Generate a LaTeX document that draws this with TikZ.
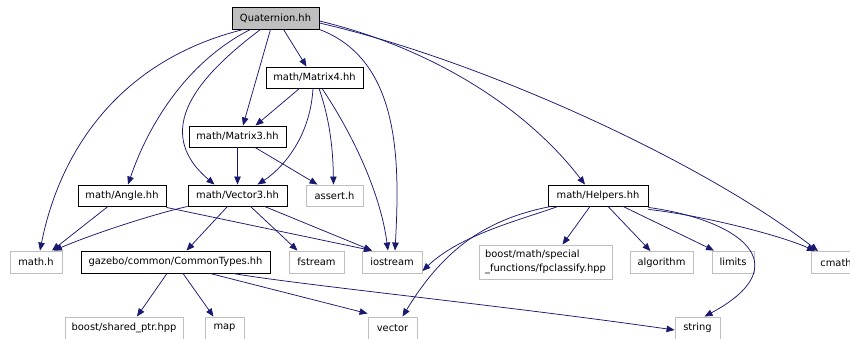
\documentclass[tikz,border=0pt]{standalone}
\usepackage{fontspec}
\setmainfont{DejaVu Sans}
\usetikzlibrary{arrows.meta}
\definecolor{edgeblue}{HTML}{191970}
\definecolor{extgray}{HTML}{BFBFBF}
\tikzset{
  every node/.style={font=\fontsize{9.9}{13.5}\selectfont, inner sep=0pt},
  hdr/.style={draw=black, line width=0.9pt, rectangle, fill=white, align=center},
  ext/.style={draw=extgray, line width=0.9pt, rectangle, fill=white, align=center},
  root/.style={hdr, fill=extgray},
  dep/.style={draw=edgeblue, line width=0.75pt, -{Triangle[length=8pt,width=6.5pt]}},
}
\begin{document}
\begin{tikzpicture}[x=1pt, y=-1pt]
\useasboundingbox (0,0) rectangle (850,339);

% header files of the project
\node[root, minimum width=87pt, minimum height=22pt] (q)   at (275.5,18)   {Quaternion.hh};
\node[hdr, minimum width=97pt, minimum height=21pt] (m4)   at (314.5,77.5) {math/Matrix4.hh};
\node[hdr, minimum width=97pt, minimum height=21pt] (m3)   at (237.5,136.5) {math/Matrix3.hh};
\node[hdr, minimum width=88pt, minimum height=21pt] (ang)  at (122,195.5)  {math/Angle.hh};
\node[hdr, minimum width=99pt, minimum height=21pt] (v3)   at (237.5,195.5) {math/Vector3.hh};
\node[hdr, minimum width=100pt, minimum height=21pt] (hlp) at (598,195.5)  {math/Helpers.hh};
\node[hdr, minimum width=189pt, minimum height=22pt] (ct)  at (175.5,262)  {gazebo/common/CommonTypes.hh};

% system and third-party headers
\node[ext, minimum width=57pt, minimum height=21pt] (as)   at (334.5,195.5) {assert.h};
\node[ext, minimum width=52pt, minimum height=22pt] (mh)   at (36,262)     {math.h};
\node[ext, minimum width=55pt, minimum height=22pt] (fs)   at (316.5,262)  {fstream};
\node[ext, minimum width=60pt, minimum height=22pt] (ios)  at (392,262)    {iostream};
\node[ext, minimum width=133pt, minimum height=34pt, align=left] (bm) at (545.5,262)
  {boost/math/special\\\_functions/fpclassify.hpp};
\node[ext, minimum width=63pt, minimum height=22pt] (alg)  at (661.5,262.5) {algorithm};
\node[ext, minimum width=42pt, minimum height=22pt] (lim)  at (733,262)    {limits};
\node[ext, minimum width=50pt, minimum height=22pt] (cm)   at (836,262.5)  {cmath};
\node[ext, minimum width=118pt, minimum height=22pt] (sp)  at (124,328)    {boost/shared\_ptr.hpp};
\node[ext, minimum width=39pt, minimum height=22pt] (map)  at (224.5,328)  {map};
\node[ext, minimum width=49pt, minimum height=22pt] (vec)  at (392.5,328)  {vector};
\node[ext, minimum width=45pt, minimum height=22pt] (str)  at (697.5,328)  {string};

% includes of Quaternion.hh
\draw[dep] ([xshift=8pt]q.south) -- ([xshift=-8pt]m4.north);
\draw[dep] ([xshift=-5pt]q.south) -- ([xshift=5.5pt]m3.north);
\draw[dep] ([xshift=-15pt]q.south) .. controls (200,75) and (150,130) .. ([xshift=-23pt]v3.north);
\draw[dep] ([xshift=-25pt]q.south) .. controls (190,60) and (150,120) .. ([xshift=6pt]ang.north);
\draw[dep] ([xshift=-32pt]q.south) .. controls (120,60) and (60,150) .. ([xshift=4pt]mh.north);
\draw[dep] (q.south east) .. controls (400,60) and (400,160) .. ([xshift=3pt]ios.north);
\draw[dep] ([yshift=-3pt]q.east) .. controls (420,45) and (520,100) .. ([xshift=-13pt]hlp.north);
\draw[dep] ([yshift=-5pt]q.east) .. controls (480,60) and (700,160) .. ([xshift=-18pt]cm.north);

% includes of Matrix4.hh
\draw[dep] ([xshift=-15pt]m4.south) -- ([xshift=18pt]m3.north);
\draw[dep] ([xshift=-1.5pt]m4.south) .. controls (310,140) and (280,170) .. ([xshift=20pt]v3.north);
\draw[dep] ([xshift=4.5pt]m4.south) .. controls (330,120) and (333,150) .. ([xshift=-1pt]as.north);
\draw[dep] ([xshift=7.5pt]m4.south) .. controls (350,130) and (380,190) .. ([xshift=-4pt]ios.north);

% includes of Matrix3.hh
\draw[dep] (m3.south) -- (v3.north);
\draw[dep] ([xshift=17.5pt]m3.south) -- ([xshift=-17pt]as.north);

% includes of Angle.hh
\draw[dep] ([xshift=-14pt]ang.south) -- ([xshift=16pt]mh.north);
\draw[dep] ([yshift=-1pt]ang.south east) -- ([xshift=-20pt]ios.north);

% includes of Vector3.hh
\draw[dep] (v3.south west) .. controls (150,215) and (90,235) .. ([xshift=18pt]mh.north);
\draw[dep] ([xshift=-10pt]v3.south) -- ([xshift=11pt]ct.north);
\draw[dep] ([xshift=13pt]v3.south) -- ([xshift=-19pt]fs.north);
\draw[dep] ([xshift=27pt]v3.south) -- ([xshift=-20pt]ios.north);

% includes of CommonTypes.hh
\draw[dep] ([xshift=-8.5pt]ct.south) -- ([xshift=13pt]sp.north);
\draw[dep] ([xshift=7.5pt]ct.south) -- ([xshift=-11pt]map.north);
\draw[dep] ([xshift=34.5pt]ct.south) -- ([yshift=3pt]vec.north west);
\draw[dep] ([xshift=57.5pt]ct.south) .. controls (300,285) and (500,305) .. ([yshift=-2pt]str.west);

% includes of Helpers.hh
\draw[dep] ([xshift=-40pt]hlp.south) .. controls (520,220) and (460,235) .. ([yshift=-9pt]ios.east);
\draw[dep] ([xshift=-47pt]hlp.south) .. controls (480,220) and (440,255) .. ([xshift=10pt]vec.north);
\draw[dep] ([xshift=-8pt]hlp.south) -- ([xshift=17pt]bm.north);
\draw[dep] ([xshift=10pt]hlp.south) -- ([xshift=-11pt]alg.north);
\draw[dep] ([xshift=25pt]hlp.south) -- ([xshift=-19pt]lim.north);
\draw[dep] ([yshift=-1pt]hlp.south east) .. controls (740,220) and (800,265) .. ([xshift=7pt]str.north);
\draw[dep] ([yshift=-3pt]hlp.south east) .. controls (700,215) and (780,235) .. ([xshift=-21pt]cm.north);
\end{tikzpicture}
\end{document}
